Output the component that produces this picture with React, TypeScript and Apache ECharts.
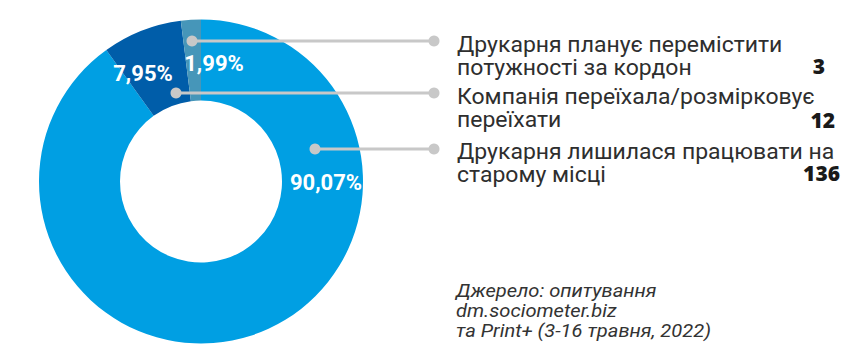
import React, { useEffect, useRef } from "react";
import * as echarts from "echarts";

const categories = [
  "Друкарня лишилася працювати на\nстарому місці",
  "Компанія переїхала/розмірковує\nпереїхати",
  "Друкарня планує перемістити\nпотужності за кордон",
];
const counts = [136, 12, 3];
const sliceColors = ["#009fe3", "#005da9", "#4696b9"];
const sourceLines = [
  "Джерело: опитування",
  "dm.sociometer.biz",
  "та Print+ (3-16 травня, 2022)",
];

const FONT = "Roboto, 'Open Sans', sans-serif";
const NFONT = "'Open Sans', Roboto, sans-serif";

export default function App() {
  const ref = useRef<HTMLDivElement>(null);
  useEffect(() => {
    if (!ref.current) return;
    const chart = echarts.init(ref.current, null, { renderer: "svg" });
    const total = counts.reduce((a, b) => a + b, 0);
    const pct = counts.map((c) => ((c / total) * 100).toFixed(2).replace(".", ",") + "%");

    const pctPos = [
      [326, 182],
      [143, 73],
      [214, 63],
    ];
    const dotPos = [
      [315, 149],
      [176, 93],
      [192, 41],
    ];
    const legendTop = [140, 85, 32.5];
    const numPos = [
      [840, 173],
      [835, 119.5],
      [825, 66],
    ];
    const endX = 434;

    const graphics: any[] = [];
    counts.forEach((c, i) => {
      graphics.push({
        type: "text",
        x: pctPos[i][0],
        y: pctPos[i][1],
        z: 10,
        style: {
          text: pct[i],
          fill: "#ffffff",
          font: `bold 22px ${FONT}`,
          align: "center",
          verticalAlign: "middle",
        },
      });
      graphics.push({
        type: "line",
        z: 11,
        shape: { x1: dotPos[i][0], y1: dotPos[i][1], x2: endX, y2: dotPos[i][1] },
        style: { stroke: "#c8c8c8", lineWidth: 3 },
      });
      graphics.push({
        type: "circle",
        z: 12,
        shape: { cx: dotPos[i][0], cy: dotPos[i][1], r: 5.5 },
        style: { fill: "#c8c8c8" },
      });
      graphics.push({
        type: "circle",
        z: 12,
        shape: { cx: endX, cy: dotPos[i][1], r: 5.5 },
        style: { fill: "#c8c8c8" },
      });
      graphics.push({
        type: "text",
        x: 457,
        y: legendTop[i],
        scaleX: 1.07,
        style: {
          text: categories[i],
          fill: "#2e2e2e",
          font: `21.5px ${FONT}`,
          lineHeight: 23,
          align: "left",
          verticalAlign: "top",
        },
      });
      graphics.push({
        type: "text",
        x: numPos[i][0],
        y: numPos[i][1],
        style: {
          text: String(c),
          fill: "#1a1a1a",
          font: `800 21px ${NFONT}`,
          align: "right",
          verticalAlign: "middle",
        },
      });
    });
    graphics.push({
      type: "text",
      x: 456,
      y: 281,
      scaleX: 1.15,
      style: {
        text: sourceLines.join("\n"),
        fill: "#333333",
        font: `italic 17.5px ${FONT}`,
        lineHeight: 20,
        align: "left",
        verticalAlign: "top",
      },
    });

    chart.setOption({
      animation: false,
      backgroundColor: "#ffffff",
      series: [
        {
          type: "pie",
          center: [201, 181.5],
          radius: [81, 162],
          startAngle: 90,
          clockwise: true,
          label: { show: false },
          labelLine: { show: false },
          emphasis: { disabled: true },
          itemStyle: { borderWidth: 0 },
          data: counts.map((v, i) => ({
            value: v,
            name: categories[i],
            itemStyle: { color: sliceColors[i] },
          })),
        },
      ],
      graphic: graphics,
    });
    return () => chart.dispose();
  }, []);
  return (
    <div
      ref={ref}
      style={{ position: "fixed", left: 0, top: 0, width: 868, height: 351 }}
    />
  );
}
